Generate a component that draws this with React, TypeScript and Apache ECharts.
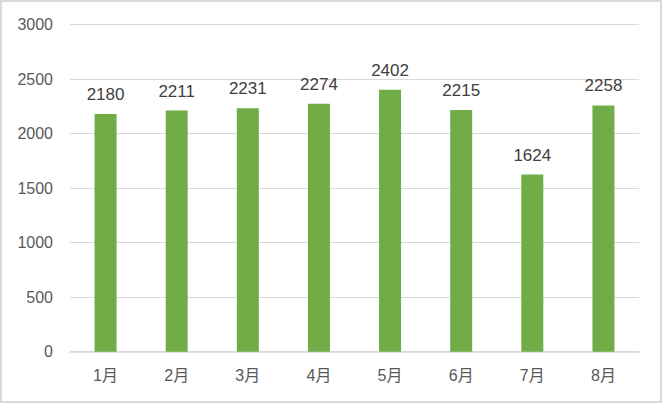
import React, { useEffect, useRef } from "react";
import * as echarts from "echarts";

const categories = ["1月", "2月", "3月", "4月", "5月", "6月", "7月", "8月"];
const values = [2180, 2211, 2231, 2274, 2402, 2215, 1624, 2258];
const yMin = 0;
const yMax = 3000;
const yInterval = 500;

export default function App() {
  const ref = useRef<HTMLDivElement>(null);
  useEffect(() => {
    if (!ref.current) return;
    const chart = echarts.init(ref.current, undefined, { renderer: "svg" });
    const font = "'Liberation Sans', 'Noto Sans CJK SC', sans-serif";
    chart.setOption({
      animation: false,
      backgroundColor: "#ffffff",
      graphic: [
        {
          type: "rect",
          shape: { x: 1, y: 1, width: 660, height: 401 },
          style: { fill: "none", stroke: "#d9d9d9", lineWidth: 2 },
          silent: true,
        },
      ],
      grid: { left: 70, right: 23, top: 24.5, bottom: 51.3, containLabel: false },
      xAxis: {
        type: "category",
        data: categories,
        axisLine: { show: true, lineStyle: { color: "#d9d9d9", width: 1.5 } },
        axisTick: { show: false },
        axisLabel: { color: "#595959", fontSize: 16, fontFamily: font, margin: 16 },
      },
      yAxis: {
        type: "value",
        min: yMin,
        max: yMax,
        interval: yInterval,
        axisLine: { show: false },
        axisTick: { show: false },
        splitLine: { lineStyle: { color: "#d9d9d9", width: 1 } },
        axisLabel: {
          color: "#595959",
          fontSize: 16,
          fontFamily: font,
          margin: 17,
          formatter: (v: number) => String(v),
        },
      },
      series: [
        {
          type: "bar",
          data: values,
          barWidth: 22,
          itemStyle: { color: "#70ad47" },
          label: {
            show: true,
            position: "top",
            distance: 11,
            color: "#404040",
            fontSize: 17,
            fontFamily: font,
          },
        },
      ],
    });
    return () => chart.dispose();
  }, []);
  return (
    <div
      ref={ref}
      style={{ position: "fixed", left: 0, top: 0, width: 662, height: 403 }}
    />
  );
}
